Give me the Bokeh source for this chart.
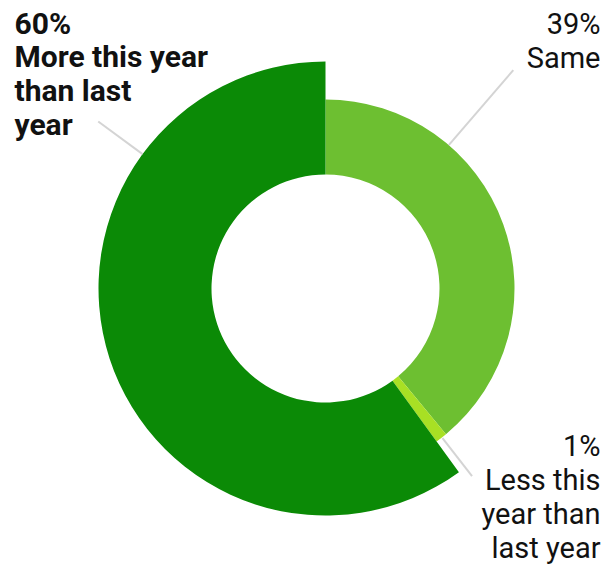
from bokeh.plotting import figure
from bokeh.models import Range1d, ColumnDataSource
from bokeh.embed import file_html
from bokeh.resources import INLINE
from bokeh.core.properties import value
import numpy as np

# Data
categories = ["Same", "Less this year than last year", "More this year than last year"]
shares = [39, 1, 60]
colors = ["#6dbf31", "#a8e024", "#0b8a06"]
label_texts = ["39%\nSame", "1%\nLess this\nyear than\nlast year", "60%\nMore this year\nthan last\nyear"]

W, H = 611, 565
cx, cy = 325, H - 288
r_inner = 114
r_outer = [189, 189, 227]

p = figure(width=W, height=H, output_backend="svg", toolbar_location=None,
           x_range=Range1d(0, W), y_range=Range1d(0, H), min_border=0)
p.axis.visible = False
p.grid.visible = False
p.outline_line_color = None
p.background_fill_color = "white"

fr = np.array(shares) / sum(shares)
cum = np.concatenate([[0], np.cumsum(fr)])
start_deg = 90 - cum[1:] * 360
end_deg = 90 - cum[:-1] * 360

src = ColumnDataSource(dict(x=[cx]*3, y=[cy]*3, start=np.radians(start_deg), end=np.radians(end_deg),
                            ro=r_outer, color=colors))
p.annular_wedge(x="x", y="y", inner_radius=r_inner, outer_radius="ro", start_angle="start",
                end_angle="end", fill_color="color", line_color=None, source=src)

# leader lines (polar: angle, r0, r1)
leaders = [(49.3, 189, 288), (-52.0, 190, 238), (143.7, 227, 282)]
for ang, r0, r1 in leaders:
    a = np.radians(ang)
    p.line([cx + r0*np.cos(a), cx + r1*np.cos(a)], [cy + r0*np.sin(a), cy + r1*np.sin(a)],
           line_color="#d4d4d4", line_width=2)

font = value("Roboto")
p.text(x=[600], y=[H - 6], text=[label_texts[0]], text_font=font, text_font_size="29px",
       text_align="right", text_baseline="top", text_color="#111111", text_line_height=1.0)
p.text(x=[600], y=[H - 428], text=[label_texts[1]], text_font=font, text_font_size="29px",
       text_align="right", text_baseline="top", text_color="#111111", text_line_height=1.0)
p.text(x=[14], y=[H - 5], text=[label_texts[2]], text_font=font, text_font_size="30px",
       text_font_style="bold", text_align="left", text_baseline="top", text_color="#111111",
       text_line_height=0.97)

open("out.html", "w").write(file_html(p, INLINE))
